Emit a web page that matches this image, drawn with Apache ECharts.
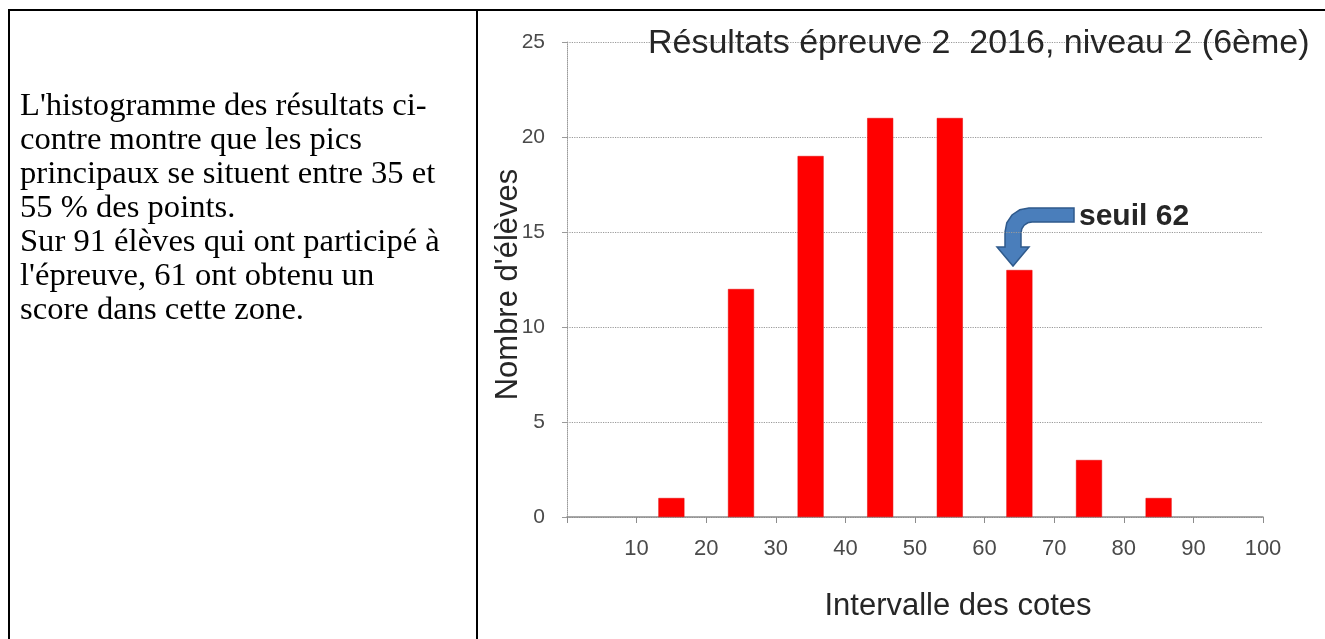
<!DOCTYPE html>
<html>
<head>
<meta charset="utf-8">
<script src="https://cdn.jsdelivr.net/npm/echarts@6/dist/echarts.min.js"></script>
<style>
  html, body { margin: 0; padding: 0; background: #fff; width: 1325px; height: 639px; overflow: hidden; }
  #chart { position: absolute; left: 0; top: 0; width: 1325px; height: 639px; }
  .hline { position: absolute; left: 8px; top: 9px; width: 1317px; height: 2px; background: #000; }
  .vline1 { position: absolute; left: 8px; top: 9px; width: 2px; height: 630px; background: #000; }
  .vline2 { position: absolute; left: 476px; top: 9px; width: 2px; height: 630px; background: #000; }
  #txt { position: absolute; left: 20px; top: 87px; font-family: 'Liberation Serif', 'Times New Roman', serif;
         font-size: 32.6px; line-height: 34px; color: #000; white-space: nowrap; }
</style>
</head>
<body>
<div id="chart"></div>
<div class="hline"></div>
<div class="vline1"></div>
<div class="vline2"></div>
<div id="txt"></div>
<script>
// ---- data ----
const textLines = [
  "L'histogramme des résultats ci-",
  "contre montre que les pics",
  "principaux se situent entre 35 et",
  "55 % des points.",
  "Sur 91 élèves qui ont participé à",
  "l'épreuve, 61 ont obtenu un",
  "score dans cette zone."
];
const chartTitle = "Résultats épreuve 2  2016, niveau 2 (6ème)";
const xAxisName = "Intervalle des cotes";
const yAxisName = "Nombre d'élèves";
const intervalMids = [15, 25, 35, 45, 55, 65, 75, 85];   // centre of each 10-point interval
const counts = [1, 12, 19, 21, 21, 13, 3, 1];
const xTickLabels = [10, 20, 30, 40, 50, 60, 70, 80, 90, 100];
const yTickLabels = [0, 5, 10, 15, 20, 25];
const annotationText = "seuil 62";

document.getElementById('txt').innerHTML = textLines.map(s => s.replace(/&/g,'&amp;').replace(/</g,'&lt;')).join('<br>');

const chart = echarts.init(document.getElementById('chart'));
const sansFont = "'Liberation Sans', Arial, sans-serif";
const arrowPts = [[1074,208],[1029,208],[1019.8,209.8],[1012,215],[1006.8,222.8],[1005,232],[1005,247],[997,247],
  [1013,266],[1029,247],[1021,247],[1021,233],[1021.8,228.8],[1024.2,225.2],[1027.8,222.8],[1032,222],[1074,222]];
const option = {
  animation: false,
  backgroundColor: 'transparent',
  title: {
    text: chartTitle,
    left: 648, top: 27, padding: 0,
    textStyle: { fontFamily: sansFont, fontSize: 34, fontWeight: 'normal', color: '#262626' }
  },
  grid: { left: 567, right: 62, top: 42, bottom: 122, containLabel: false, outerBoundsMode: 'none' },
  xAxis: {
    type: 'value', min: 0, max: 100, interval: 10,
    name: xAxisName, nameLocation: 'middle', nameGap: 74, nameMoveOverlap: false,
    nameTextStyle: { fontFamily: sansFont, fontSize: 31, color: '#262626', padding: [0, 0, 0, 86] },
    axisLine: { show: true, lineStyle: { color: '#8c8c8c', width: 1.5 } },
    axisTick: { show: true, length: 6, lineStyle: { color: '#8c8c8c' } },
    axisLabel: {
      margin: 21, fontFamily: sansFont, fontSize: 22, color: '#4a4a4a',
      formatter: v => xTickLabels.indexOf(v) >= 0 ? String(v) : ''
    },
    splitLine: { show: false }
  },
  yAxis: {
    type: 'value', min: 0, max: 25, interval: 5,
    name: yAxisName, nameLocation: 'middle', nameGap: 43, nameMoveOverlap: false,
    nameTextStyle: { fontFamily: sansFont, fontSize: 31, color: '#262626', padding: [0, 10, 0, 0] },
    axisLine: { show: true, lineStyle: { color: '#9a9a9a', width: 1, type: 'dotted' } },
    axisTick: { show: true, length: 5, lineStyle: { color: '#9a9a9a' } },
    axisLabel: {
      margin: 22, fontFamily: sansFont, fontSize: 21, color: '#4a4a4a',
      formatter: v => yTickLabels.indexOf(v) >= 0 ? String(v) : ''
    },
    splitLine: { show: true, lineStyle: { color: '#9a9a9a', width: 1.2, type: 'dotted' } }
  },
  series: [{
    type: 'bar',
    data: intervalMids.map((m, i) => [m, counts[i]]),
    barWidth: 26,
    itemStyle: { color: '#ff0000', borderColor: '#e00000', borderWidth: 0.5 }
  }],
  graphic: [
    {
      type: 'polygon',
      shape: { points: arrowPts },
      style: { fill: '#4a7ebb', stroke: '#2f5a8c', lineWidth: 1.5 }
    },
    {
      type: 'text', left: 1079, top: 202,
      style: { text: annotationText, font: "bold 30px 'Liberation Sans', Arial, sans-serif", fill: '#262626' }
    }
  ]
};
chart.setOption(option);
</script>
</body>
</html>
